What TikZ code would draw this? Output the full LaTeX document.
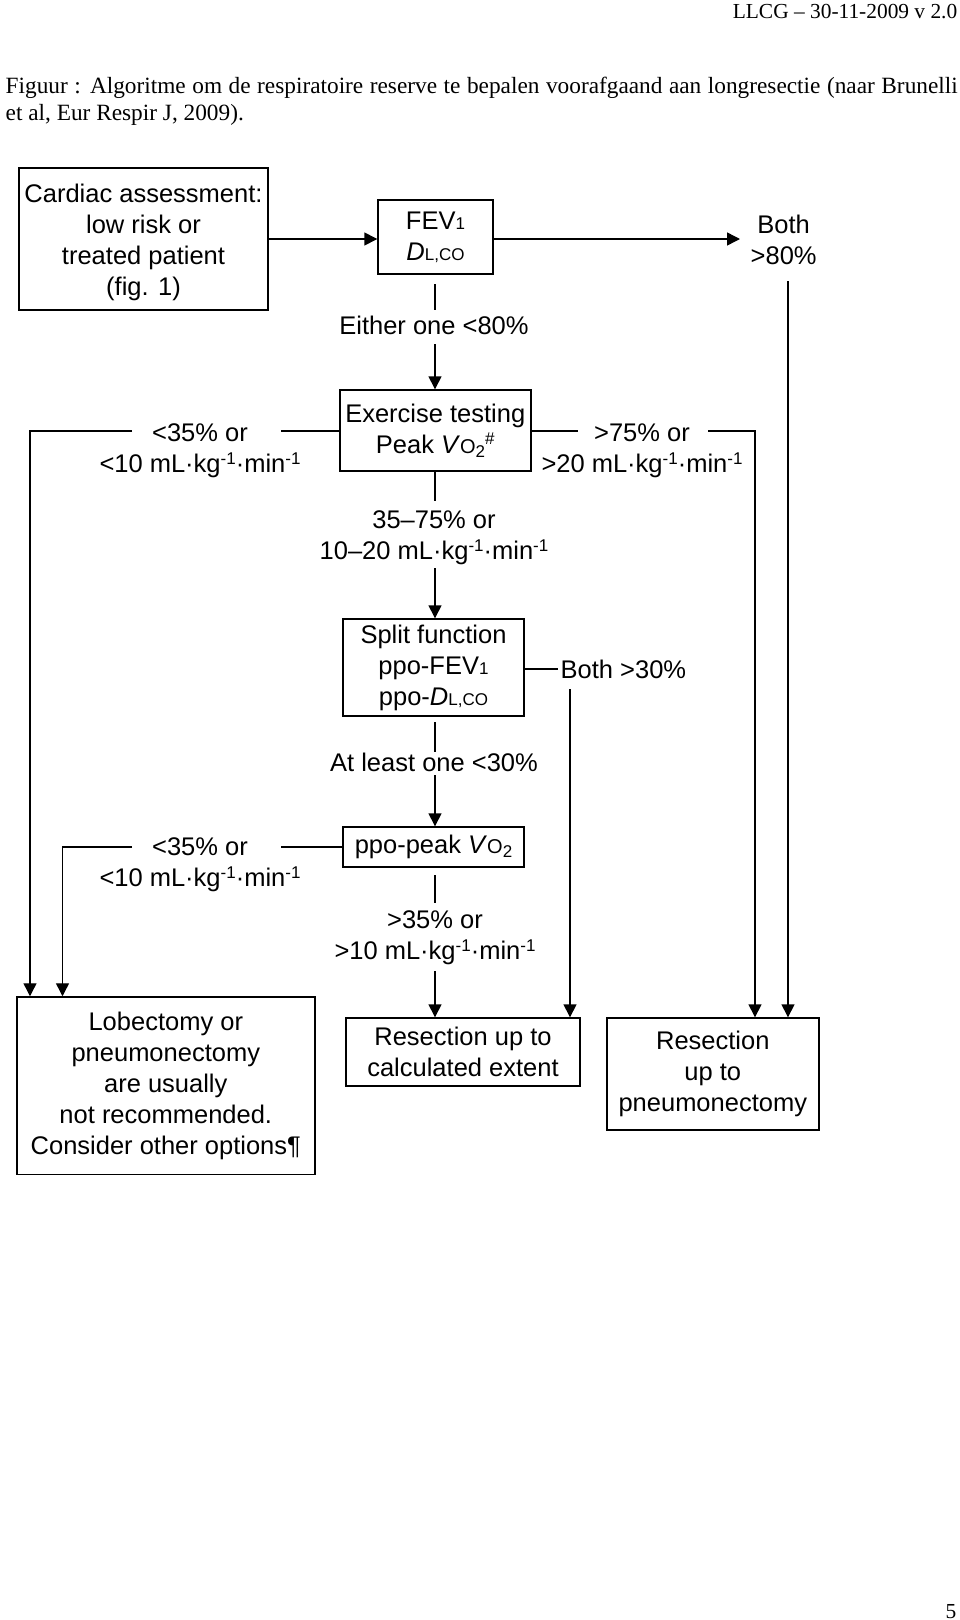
\documentclass[tikz,border=0pt]{standalone}
\usepackage{fontspec}
\setmainfont{Liberation Serif}
\newfontfamily\arialf{Liberation Sans}
\usetikzlibrary{arrows.meta}
\newcommand\smt[1]{{\fontsize{17}{17}\selectfont #1}}
\newcommand\vo{\textit{V}{\fontsize{20}{20}\selectfont O}\raisebox{-4pt}{\smt{2}}}
\newcommand\unitA{mL·kg\raisebox{8pt}{\smt{-1}}·min\raisebox{8pt}{\smt{-1}}}
\begin{document}
\begin{tikzpicture}[x=1pt,y=-1pt,line width=1.4pt,
  font=\arialf\fontsize{25.5}{31}\selectfont,
  box/.style={draw,line width=1.4pt,align=center,inner sep=0pt},
  lbl/.style={align=center,inner sep=0pt},
  arr/.style={-{Triangle[length=13pt,width=13pt]}},
  serif/.style={font=\rmfamily\fontsize{23.3}{27}\selectfont},
  hserif/.style={font=\rmfamily\fontsize{21.4}{26}\selectfont}]
\useasboundingbox (0,0) rectangle (960,1620);
% header and caption
\node[hserif,anchor=base east,inner sep=0pt] (hdr) at (958,18) {LLCG – 30-11-2009 v 2.0};
\node[serif,anchor=base west,inner sep=0pt] (cap1) at (5,93) {\makebox[952pt][s]{Figuur : Algoritme om de respiratoire reserve te bepalen voorafgaand aan longresectie (naar Brunelli}};
\node[serif,anchor=base west,inner sep=0pt] (cap2) at (5,120) {et al, Eur Respir J, 2009).};
\node[hserif,anchor=base east,inner sep=0pt] (pg) at (957,1618) {5};
% boxes
\node[box,minimum width=249pt,minimum height=142pt] (card) at (143.5,239) {\raisebox{-4pt}[\height][\depth]{\begin{tabular}{@{}c@{}}Cardiac assessment:\\low risk or\\treated patient\\(fig. 1)\end{tabular}}};
\node[box,minimum width=115pt,minimum height=74pt] (fev) at (435.5,237) {FEV\smt{1}\\\textit{D}\smt{L,CO}};
\node[lbl,anchor=west,inner xsep=10pt] (b80) at (740,240) {Both\\>80\%};
\node[lbl] (either) at (434,325) {Either one <80\%};
\node[box,minimum width=191pt,minimum height=81pt] (ex) at (435.3,430.5) {Exercise testing\\Peak \vo\raisebox{9pt}{\smt{\#}}};
\node[lbl] (l1) at (200,451) {<35\% or\\<10 \unitA};
\node[lbl] (r1) at (642,451) {>75\% or\\>20 \unitA};
\node[lbl] (m1) at (434,538) {35–75\% or\\10–20 \unitA};
\node[box,minimum width=181pt,minimum height=97pt] (split) at (433.5,667.5) {Split function\\ppo-FEV\smt{1}\\ppo-\textit{D}\smt{L,CO}};
\node[lbl,anchor=west,inner xsep=2pt] (b30) at (558,669) {Both >30\%};
\node[lbl] (least) at (434,762) {At least one <30\%};
\node[box,minimum width=181pt,minimum height=40pt] (ppo) at (433.5,847) {ppo-peak \vo};
\node[lbl] (l2) at (200,865) {<35\% or\\<10 \unitA};
\node[lbl] (m2) at (435,938) {>35\% or\\>10 \unitA};
\node[box,minimum width=298pt,minimum height=177.5pt] (lob) at (165.8,1085.7) {Lobectomy or\\pneumonectomy\\are usually\\not recommended.\\Consider other options¶};
\node[box,minimum width=234pt,minimum height=68pt] (calc) at (463,1052) {Resection up to\\calculated extent};
\node[box,minimum width=212pt,minimum height=112pt] (res2) at (712.8,1074) {Resection\\up to\\pneumonectomy};
% coordinates
\coordinate (c80) at (788,281);
\coordinate (f1) at (435,284); \coordinate (f2) at (435,310); \coordinate (f3) at (435,344);
\coordinate (e1) at (435,501); \coordinate (e2) at (435,568);
\coordinate (s1) at (435,722); \coordinate (s2) at (435,752); \coordinate (s3) at (435,775);
\coordinate (p1) at (435,875); \coordinate (p2) at (435,903); \coordinate (p3) at (435,971);
\coordinate (la) at (281,431); \coordinate (lb) at (132,431); \coordinate (lc) at (30,431);
\coordinate (ra) at (578,431); \coordinate (rb) at (708,431); \coordinate (rc) at (755,431);
\coordinate (c30) at (570,689);
\coordinate (qa) at (281,847); \coordinate (qb) at (132,847); \coordinate (qc) at (62.5,847);
% connectors
\draw[arr] (card.east) -- (fev.west |- card.east);
\draw[arr] (fev.east |- card.east) -- (b80.west |- card.east);
\draw[arr] (c80) -- (c80 |- res2.north);
\draw (f1) -- (f2);
\draw[arr] (f3) -- (f3 |- ex.north);
\draw (ex.west |- la) -- (la);
\draw[arr] (lb) -- (lc) -- (lc |- lob.north);
\draw (ex.east |- ra) -- (ra);
\draw[arr] (rb) -- (rc) -- (rc |- res2.north);
\draw (ex.south -| e1) -- (e1);
\draw[arr] (e2) -- (e2 |- split.north);
\draw (split.east |- b30.west) -- (b30.west);
\draw[arr] (c30) -- (c30 |- calc.north);
\draw (s1) -- (s2);
\draw[arr] (s3) -- (s3 |- ppo.north);
\draw (ppo.west |- qa) -- (qa);
\draw[arr] (qb) -- (qc) -- (qc |- lob.north);
\draw (p1) -- (p2);
\draw[arr] (p3) -- (p3 |- calc.north);
\end{tikzpicture}
\end{document}
